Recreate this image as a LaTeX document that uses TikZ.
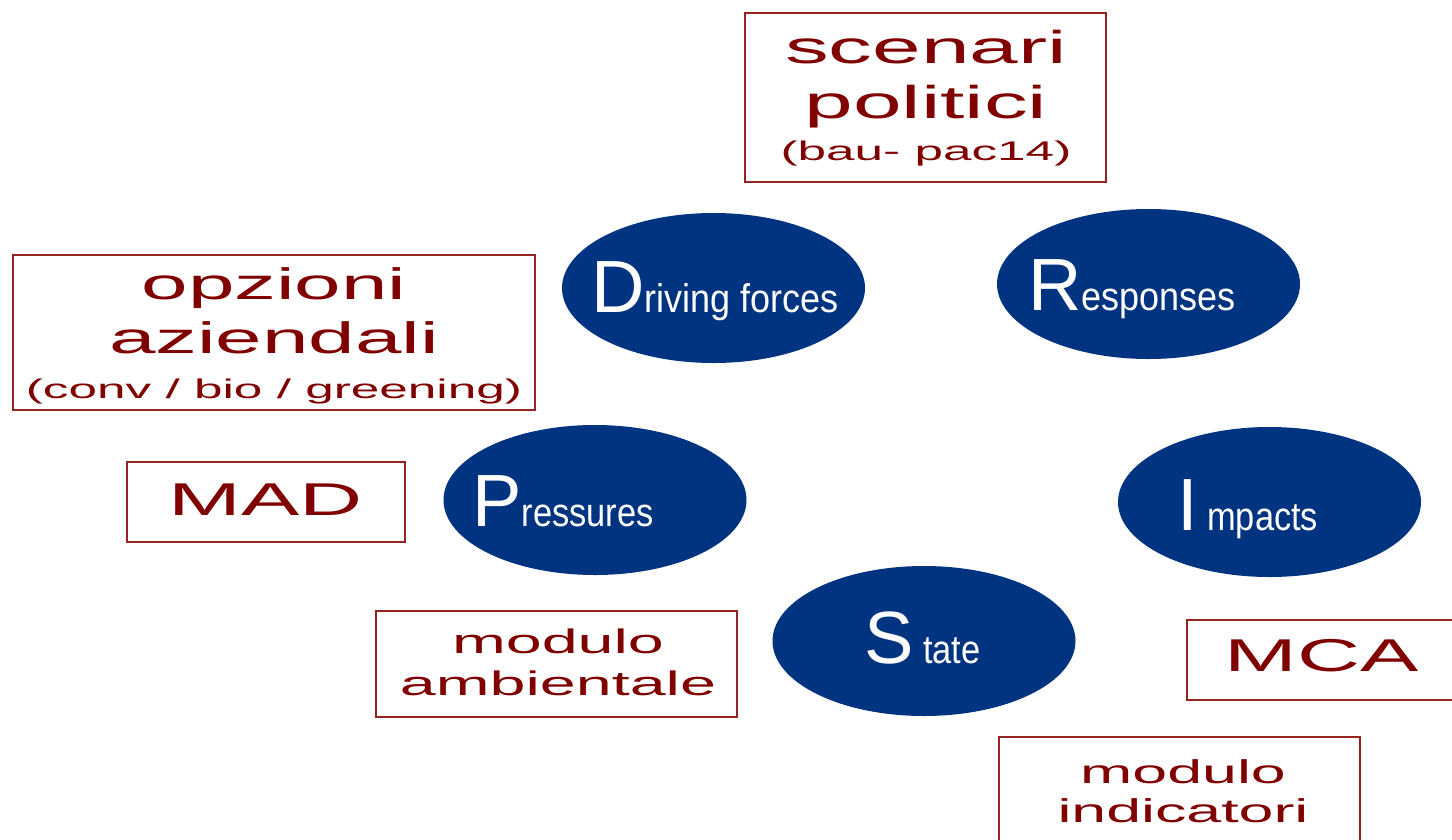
\documentclass[tikz,border=0pt]{standalone}
\usepackage{fontspec}
\setmainfont{Liberation Sans}
\newfontfamily\boxfont[FakeStretch=1.9]{Liberation Sans}
\newfontfamily\narrowfont[FakeStretch=0.86]{Liberation Sans}
\newfontfamily\narrowfontb[FakeStretch=0.90]{Liberation Sans}
\usetikzlibrary{shapes.geometric}
\definecolor{dpsirblue}{RGB}{0,52,128}
\definecolor{boxred}{RGB}{128,0,0}
\definecolor{boxline}{RGB}{150,35,35}
\newcommand{\fsz}[1]{\fontsize{#1}{#1}\selectfont}
\begin{document}
\begin{tikzpicture}[x=1pt,y=-1pt,
  ell/.style={ellipse, fill=dpsirblue, draw=none, minimum width=303pt, minimum height=150pt, inner sep=0pt},
  box/.style={draw=boxline, line width=2pt, inner sep=0pt},
  btxt/.style={anchor=base, text=boxred, font=\boxfont, inner sep=0pt},
  ltxt/.style={anchor=base west, text=white, inner sep=0pt}]
\clip (0,0) rectangle (1452,839);
\fill[white] (0,0) rectangle (1452,839);
% ellipses
\node[ell] (D) at (713.5,288) {};
\node[ell] (R) at (1148.5,284) {};
\node[ell] (P) at (595,500) {};
\node[ell] (I) at (1269.5,502) {};
\node[ell] (S) at (924,641) {};
\node[ltxt] (Dl) at (591,312) {\fsz{74}D\narrowfontb\fsz{40}riving forces};
\node[ltxt] (Rl) at (1028,310) {\fsz{74}R\narrowfontb\fsz{40}esponses};
\node[ltxt] (Pl) at (472,526) {\fsz{74}P\narrowfont\fsz{40}ressures};
\node[ltxt] (Il) at (1177,530) {\fsz{74}I\narrowfont\fsz{40} mpacts};
\node[ltxt] (Sl) at (864,663) {\fsz{74}S\narrowfont\fsz{40} tate};
% boxes
\node[box, minimum width=361pt, minimum height=169pt] (scen) at (925.5,97.5) {};
\node[btxt] (scen1) at (926,63) {\fsz{46}scenari};
\node[btxt] (scen2) at (926,118) {\fsz{46}politici};
\node[btxt] (scen3) at (926,160) {\fsz{27}(bau- pac14)};
\node[box, minimum width=522pt, minimum height=155pt] (opz) at (274,332.5) {};
\node[btxt] (opz1) at (274,299) {\fsz{44}opzioni};
\node[btxt] (opz2) at (274,353) {\fsz{44}aziendali};
\node[btxt] (opz3) at (274,398) {\fsz{27}(conv / bio / greening)};
\node[box, minimum width=278pt, minimum height=80pt] (mad) at (266,502) {};
\node[btxt] (madt) at (266,515) {\fsz{46}MAD};
\node[box, minimum width=361pt, minimum height=106pt] (amb) at (556.5,664) {};
\node[btxt] (amb1) at (558,653) {\fsz{34}modulo};
\node[btxt] (amb2) at (558,695) {\fsz{34}ambientale};
\node[box, minimum width=290pt, minimum height=80pt] (mca) at (1332,660) {};
\node[btxt] (mcat) at (1322,671) {\fsz{46}MCA};
\node[box, minimum width=361pt, minimum height=130pt] (ind) at (1179.5,802) {};
\node[btxt] (ind1) at (1183,783) {\fsz{33}modulo};
\node[btxt] (ind2) at (1183,822) {\fsz{33}indicatori};
\end{tikzpicture}
\end{document}
